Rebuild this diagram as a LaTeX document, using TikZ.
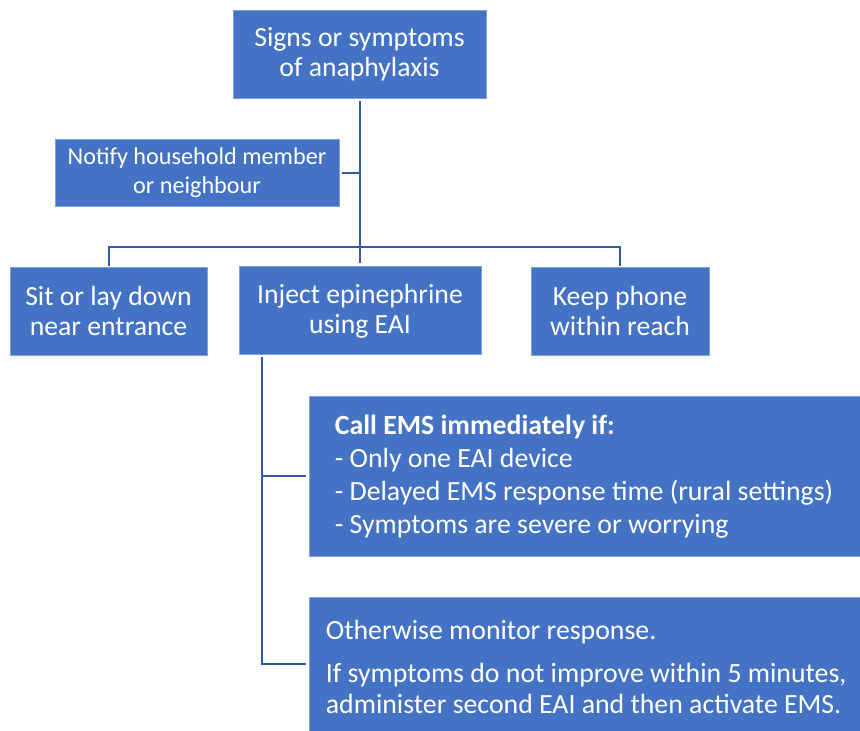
\documentclass[tikz,border=0pt]{standalone}
\usepackage{fontspec}
\setmainfont{Carlito}
\usetikzlibrary{calc}
\definecolor{boxblue}{RGB}{68,114,196}
\definecolor{edgeblue}{RGB}{130,160,215}
\definecolor{linkblue}{RGB}{50,90,165}
\begin{document}
\begin{tikzpicture}[x=1pt,y=-1pt,
  box/.style={rectangle, fill=boxblue, draw=edgeblue, line width=0.6pt, inner sep=0pt, text=white, align=center},
  big/.style={font=\fontsize{27.7}{30}\selectfont},
  small/.style={font=\fontsize{24.2}{29}\selectfont},
  txt/.style={inner sep=0pt, text=white, align=left},
  link/.style={draw=linkblue, line width=2pt}]
\useasboundingbox (0,0) rectangle (860,731);
\node[box, big, minimum width=253pt, minimum height=88pt] (top) at (359.5,54) {Signs or symptoms\\of anaphylaxis};
\node[box, small, minimum width=284pt, minimum height=67pt] (notify) at (197,172.5) {Notify household member\\or neighbour};
\node[box, big, minimum width=197pt, minimum height=88pt] (sit) at (108.5,311) {Sit or lay down\\near entrance};
\node[box, big, minimum width=242pt, minimum height=88pt, text depth=3pt] (inject) at (360,310) {Inject epinephrine\\using EAI};
\node[box, big, minimum width=178pt, minimum height=88pt] (phone) at (620,311) {Keep phone\\within reach};
\node[box, minimum width=551pt, minimum height=160pt] (call) at (584.5,476) {};
\node[txt, anchor=west, font=\fontsize{27.8}{33}\selectfont] (calltxt) at ($(call.west)+(26,1)$) {\textbf{Call EMS immediately if:}\\- Only one EAI device\\- Delayed EMS response time (rural settings)\\- Symptoms are severe or worrying};
\node[box, minimum width=551pt, minimum height=134pt] (other) at (584.5,664) {};
\node[txt, anchor=west, font=\fontsize{27.8}{31}\selectfont] (othertxt) at ($(other.west)+(17,3)$) {Otherwise monitor response.\\[12pt]If symptoms do not improve within 5 minutes,\\administer second EAI and then activate EMS.};
% connectors
\draw[link, shorten <=3pt, shorten >=3pt] (top.south) -- (top.south |- inject.north);
\draw[link, shorten <=3pt] (notify.east) -- (notify.east -| top.south);
\draw[link, shorten <=1pt, shorten >=1pt] (sit.north) -- ++(0,-20) -| (phone.north);
\coordinate (spine) at ($(inject.south west)+(23,3)$);
\draw[link, shorten >=3pt] (spine) |- (call.west);
\draw[link, shorten >=3pt] (spine) |- (other.west);
\end{tikzpicture}
\end{document}
